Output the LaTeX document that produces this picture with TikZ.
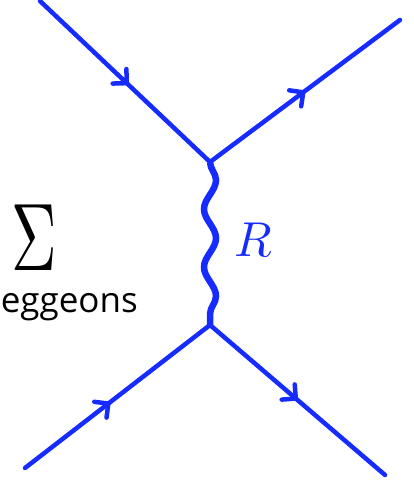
\documentclass[tikz,border=0pt]{standalone}
\usepackage{fontspec}
\newfontfamily\labelfont{Open Sans}
\usetikzlibrary{decorations.markings,decorations.pathmorphing,arrows.meta}
\definecolor{lineblue}{RGB}{22,44,255}
\begin{document}
\begin{tikzpicture}[x=1pt,y=1pt,
  fermion/.style={lineblue,line width=4.5pt,line cap=round,postaction={decorate},
    decoration={markings,mark=at position #1 with {\arrow{Straight Barb[length=10pt,width=20pt,round]}}}},
  reggeon/.style={lineblue,line width=6.5pt,decorate,
    decoration={snake,segment length=58pt,amplitude=6pt}},
  sumsym/.style={inner sep=0pt},
  smalllabel/.style={inner sep=0pt,font=\labelfont\fontsize{35}{35}\selectfont},
  rlabel/.style={inner sep=0pt,text=lineblue}]
\useasboundingbox (0,0) rectangle (414,489);
\coordinate (tl) at (40,488);
\coordinate (tr) at (400,469);
\coordinate (bl) at (25,21);
\coordinate (br) at (385,14);
\coordinate (vt) at (210,327);
\coordinate (vb) at (210,164);
\draw[fermion=0.52] (tl) -- (vt);
\draw[fermion=0.5] (vt) -- (tr);
\draw[fermion=0.46] (bl) -- (vb);
\draw[fermion=0.5] (vb) -- (br);
\draw[reggeon] (vt) -- (vb);
\node[rlabel,anchor=base west] (R) at (234,232) {\scalebox{4.9}{$R$}};
\node[sumsym,anchor=base] (sum) at (34,218) {\scalebox{6.3}[9.6]{$\Sigma$}};
\node[smalllabel,anchor=base east] (reg) at (138,176) {eggeons};
\end{tikzpicture}
\end{document}
